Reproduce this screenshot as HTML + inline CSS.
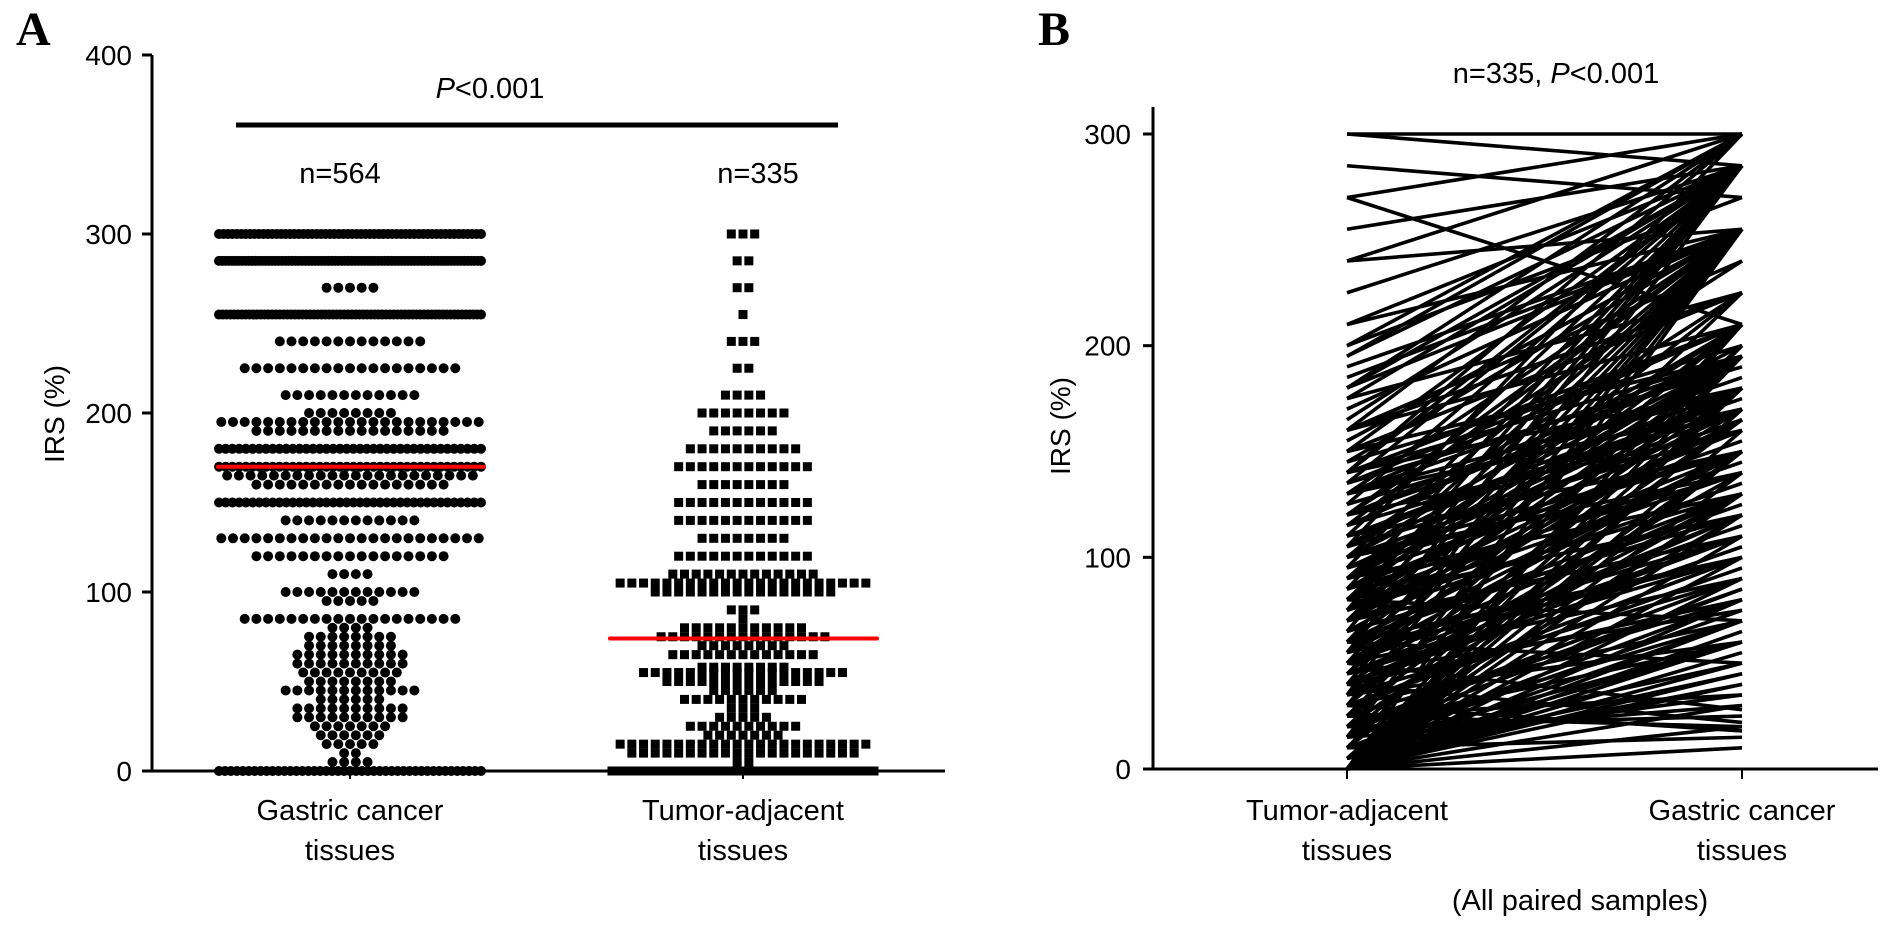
<!DOCTYPE html>
<html><head><meta charset="utf-8"><style>
body{margin:0;background:#fff}
svg{display:block;font-family:"Liberation Sans",Arial,sans-serif}
</style></head><body>
<svg id="fig" width="1882" height="932" viewBox="0 0 1882 932" xmlns="http://www.w3.org/2000/svg">
<text x="16" y="45" font-family="Liberation Serif,serif" font-weight="bold" font-size="48">A</text>
<text x="1038" y="45" font-family="Liberation Serif,serif" font-weight="bold" font-size="48">B</text>
<g id="pa"></g>
<g id="pb"></g>
</svg>
<script>
// Panel A data
const yTicksA = [0,100,200,300,400];
const gVals = [300,285,270,255,240,225,210,200,195,190,180,170,165,160,150,140,130,120,110,100,95,85,80,75,70,65,60,55,50,45,40,35,30,25,20,15,10,5,0];
const gCounts = [60,80,5,70,13,19,12,8,23,17,40,40,22,17,40,12,23,17,4,12,5,19,4,8,8,10,10,9,8,12,6,10,10,7,6,5,2,4,45];
const tVals = [300,285,270,255,240,225,210,200,190,180,170,160,150,140,130,120,110,105,100,90,85,80,75,70,65,58,55,50,45,40,35,30,25,20,15,10,5,0];
const tCounts = [3,2,2,1,3,2,4,8,6,10,12,8,12,12,8,12,13,22,16,3,1,11,15,8,13,8,18,14,6,11,3,5,10,7,22,20,2,60];
const medians = [170,74];
// Panel B data
const yTicksB = [0,100,200,300];
const adj = [300,300,285,270,270,255,240,240,225,210,210,200,200,195,190,185,180,180,175,170,165,160,160,155,150,150,145,140,140,135,130,130,125,120,120,115,110,110,105,105,100,100,100,95,95,90,90,90,85,85,80,80,80,75,75,75,70,70,70,65,65,60,60,60,55,55,55,50,50,50,45,45,45,40,40,40,35,35,35,30,30,30,25,25,25,20,20,20,15,15,15,10,10,10,10,5,5,5,5,0,0,0,0,0,0,0,0,0,0,0,0,0,0,0,0,0,0,0,0,0,140,120,100,90,80,70,60,50,40,30,180,160,150,130,110,100,85,65,45,20,195,175,155,135,115,95,75,55,35,15,105,95,85,75,65,55,45,35,25,10,
 150,140,130,120,110,100,90,80,70,60,50,40,30,20,10,145,135,125,115,105,95,85,75,65,55,45,35,25,15,5,170,160,150,140,130,120,110,100,90,80,70,60,50,40,30,20,10,0,0,0,5,10,15,20,25,30,40,50,60,80];
const gc = [300,285,270,210,300,285,255,300,285,285,255,300,270,285,255,255,300,285,225,255,285,210,300,255,285,225,255,300,195,285,255,210,285,240,195,255,285,180,225,300,255,195,165,285,150,255,210,180,285,195,255,225,170,285,195,150,255,210,180,285,165,255,195,130,285,210,170,255,180,150,225,195,120,255,165,110,285,200,140,255,180,100,210,165,130,195,150,90,255,180,120,200,150,80,60,170,130,70,45,255,210,195,180,170,160,150,140,130,120,110,100,90,80,70,60,50,40,30,20,10,285,255,210,195,180,165,150,130,120,100,255,225,195,180,170,150,140,120,110,90,300,285,255,210,195,180,165,150,130,85,200,170,160,140,120,100,75,60,35,15,
 195,180,170,160,150,140,130,120,110,100,90,80,70,60,50,200,190,180,170,160,150,140,130,120,110,100,90,80,70,60,255,240,225,210,195,185,175,165,155,145,135,125,115,105,95,85,75,65,55,45,40,35,30,25,20,18,22,28,50,70];

const NS="http://www.w3.org/2000/svg";
function mk(parent,tag,attrs,text){const e=document.createElementNS(NS,tag);for(const k in attrs)e.setAttribute(k,attrs[k]);if(text!==undefined)e.textContent=text;parent.appendChild(e);return e;}

// ---- Panel A ----
const pa=document.getElementById('pa');
const yA=v=>771-v*1.79;
const axA=152, cx=[350,743];
let el=mk(pa,'line',{x1:axA,y1:yA(400),x2:axA,y2:yA(0),stroke:'#000','stroke-width':3});


el=mk(pa,'line',{x1:axA-2,y1:yA(0),x2:945,y2:yA(0),stroke:'#000','stroke-width':3});


yTicksA.forEach(v=>{
  mk(pa,'line',{x1:axA-10,y1:yA(v),x2:axA,y2:yA(v),stroke:'#000','stroke-width':3});
  const t=mk(pa,'text',{x:132,y:yA(v)+10,'text-anchor':'end','font-size':28},String(v));
  
  
});
cx.forEach(x=>mk(pa,'line',{x1:x,y1:yA(0),x2:x,y2:yA(0)+8,stroke:'#000','stroke-width':2}));
el=mk(pa,'text',{x:0,y:0,transform:'translate(64,414) rotate(-90)','text-anchor':'middle','font-size':28},'IRS (%)');


[['Gastric cancer','tissues'],['Tumor-adjacent','tissues']].forEach((l,i)=>{
  const t=mk(pa,'text',{x:cx[i],y:820,'text-anchor':'middle','font-size':29},l[0]);
  
  
  mk(pa,'text',{x:cx[i],y:860,'text-anchor':'middle','font-size':29},l[1]);
});
el=mk(pa,'line',{x1:236,y1:125,x2:838,y2:125,stroke:'#000','stroke-width':5});


el=mk(pa,'text',{x:490,y:98,'text-anchor':'middle','font-size':29});
el.innerHTML='<tspan font-style="italic">P</tspan>&lt;0.001';


el=mk(pa,'text',{x:340,y:183,'text-anchor':'middle','font-size':29},'n=564');


el=mk(pa,'text',{x:758,y:183,'text-anchor':'middle','font-size':29},'n=335');



function swarm(vals,counts,c,shape){
  const maxW=262, sp=11.7;
  vals.forEach((v,i)=>{
    const n=counts[i];
    let s=sp; if((n-1)*s>maxW) s=maxW/(n-1);
    const w=(n-1)*s, y=yA(v);
    for(let k=0;k<n;k++){
      const x=c-w/2+k*s;
      let d;
      if(shape==='c') d=mk(pa,'circle',{cx:x,cy:y,r:5,fill:'#000'});
      else d=mk(pa,'rect',{x:x-4.5,y:y-4.5,width:9,height:9,fill:'#000'});
      
      
    }
  });
}
swarm(gVals,gCounts,cx[0],'c');
swarm(tVals,tCounts,cx[1],'s');
el=mk(pa,'line',{x1:218,y1:yA(medians[0]),x2:484,y2:yA(medians[0]),stroke:'#f00','stroke-width':4,'stroke-linecap':'round'});


el=mk(pa,'line',{x1:610,y1:yA(medians[1]),x2:877,y2:yA(medians[1]),stroke:'#f00','stroke-width':4,'stroke-linecap':'round'});



// ---- Panel B ----
const pb=document.getElementById('pb');
const yB=v=>769-v*2.1167;
const axB=1153, xL=1347, xR=1742;
el=mk(pb,'line',{x1:axB,y1:107,x2:axB,y2:yB(0),stroke:'#000','stroke-width':3});


el=mk(pb,'line',{x1:axB-10,y1:yB(0),x2:1878,y2:yB(0),stroke:'#000','stroke-width':3});


yTicksB.forEach(v=>{
  mk(pb,'line',{x1:axB-10,y1:yB(v),x2:axB,y2:yB(v),stroke:'#000','stroke-width':3});
  const t=mk(pb,'text',{x:1131,y:yB(v)+10,'text-anchor':'end','font-size':28},String(v));
  
  
});
[xL,xR].forEach(x=>mk(pb,'line',{x1:x,y1:yB(0),x2:x,y2:yB(0)+10,stroke:'#000','stroke-width':2}));
el=mk(pb,'text',{x:0,y:0,transform:'translate(1070,426) rotate(-90)','text-anchor':'middle','font-size':28},'IRS (%)');


[['Tumor-adjacent','tissues',xL],['Gastric cancer','tissues',xR]].forEach(l=>{
  const t=mk(pb,'text',{x:l[2],y:820,'text-anchor':'middle','font-size':29},l[0]);
  
  
  mk(pb,'text',{x:l[2],y:860,'text-anchor':'middle','font-size':29},l[1]);
});
el=mk(pb,'text',{x:1580,y:910,'text-anchor':'middle','font-size':29},'(All paired samples)');


el=mk(pb,'text',{x:1556,y:83,'text-anchor':'middle','font-size':29});
el.innerHTML='n=335, <tspan font-style="italic">P</tspan>&lt;0.001';


adj.forEach((a,i)=>{
  const ln=mk(pb,'line',{x1:xL,y1:yB(a),x2:xR,y2:yB(gc[i]),stroke:'#000','stroke-width':3.6});
  
  
});
</script>
</body></html>
